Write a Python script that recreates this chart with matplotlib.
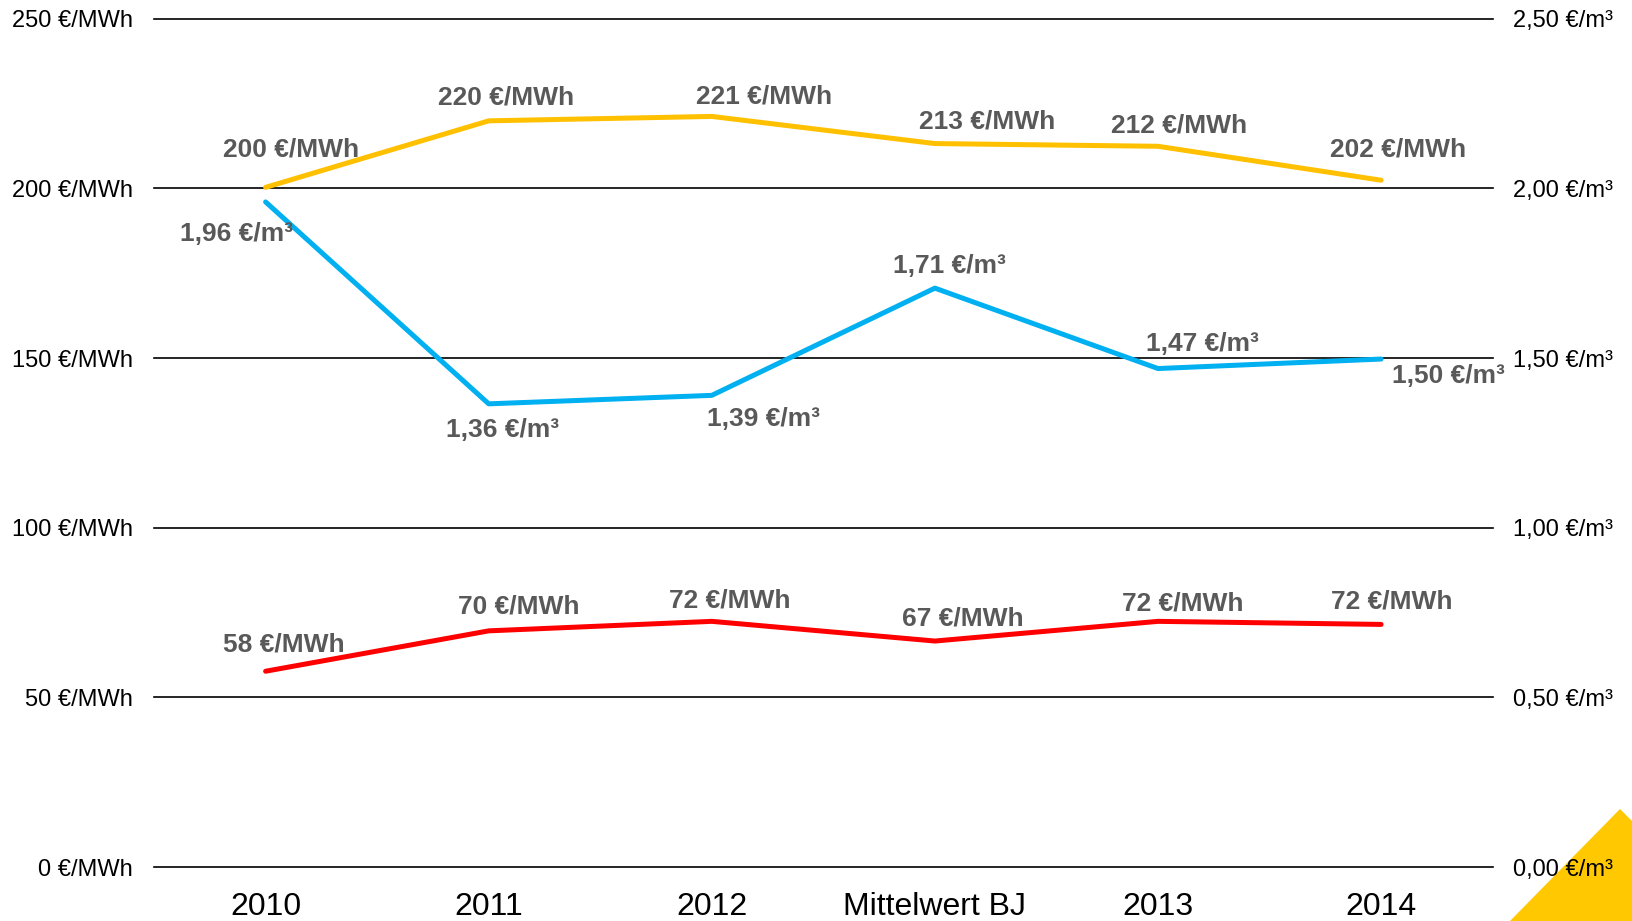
import matplotlib.pyplot as plt
from matplotlib.patches import Polygon

plt.rcParams['font.family'] = ['Liberation Sans', 'DejaVu Sans']

categories = ['2010', '2011', '2012', 'Mittelwert BJ', '2013', '2014']
heat_price = [200.3, 219.9, 221.2, 213.2, 212.4, 202.4]   # €/MWh, yellow
power_price = [57.7, 69.6, 72.4, 66.6, 72.4, 71.5]        # €/MWh, red
water_price = [1.96, 1.365, 1.39, 1.706, 1.469, 1.497]    # €/m³, blue
left_ticks = [0, 50, 100, 150, 200, 250]
right_ticks = [0, 0.5, 1.0, 1.5, 2.0, 2.5]

# label offsets in pixels (dx, dy)
heat_off = [(25, 38), (17, 23), (52, 20), (52, 22), (21, 21), (17, 31)]
power_off = [(18, 27), (30, 24), (18, 21), (28, 23), (25, 18), (11, 23)]
water_off = [(-29, -32), (14, -26), (52, -24), (15, 22), (44, 25), (67, -17)]

fig = plt.figure(figsize=(16.32, 9.21), dpi=100)

# yellow corner decoration, behind everything
tri = Polygon([(1510 / 1632, 0), (1620 / 1632, 1 - 809 / 921),
               (1, 1 - 821 / 921), (1, 0)], closed=True,
              transform=fig.transFigure, facecolor='#FFC800', edgecolor='none', zorder=-5)
fig.patches.append(tri)

ax = fig.add_axes([0.0944, 0.0586, 0.8202, 0.9211])
ax2 = ax.twinx()
ax.patch.set_alpha(0)
ax2.patch.set_alpha(0)

x = [i + 0.5 for i in range(len(categories))]

for t in left_ticks:
    ax.axhline(t, color='black', lw=1.2, clip_on=False, zorder=1)

ax.plot(x, heat_price, color='#FFC000', lw=3.6, solid_capstyle='round', zorder=3)
ax.plot(x, power_price, color='#FF0000', lw=3.6, solid_capstyle='round', zorder=3)
ax2.plot(x, water_price, color='#00B0F0', lw=3.6, solid_capstyle='round', zorder=3)

lab_kw = dict(textcoords='offset pixels', ha='center', va='center',
              fontsize=19, fontweight='bold', color='#595959')
for xi, v, o in zip(x, heat_price, heat_off):
    ax.annotate(f'{v:.0f} €/MWh', (xi, v), xytext=o, **lab_kw)
for xi, v, o in zip(x, power_price, power_off):
    ax.annotate(f'{v:.0f} €/MWh', (xi, v), xytext=o, **lab_kw)
for xi, v, o in zip(x, water_price, water_off):
    ax2.annotate(f'{v:.2f} €/m³'.replace('.', ','), (xi, v), xytext=o, **lab_kw)

ax.set_xlim(0, 6)
ax.set_ylim(0, 250)
ax2.set_ylim(0, 2.5)
ax.set_xticks(x)
ax.set_xticklabels(categories, fontsize=23)
ax.set_yticks(left_ticks)
ax.set_yticklabels([f'{t} €/MWh' for t in left_ticks], fontsize=17)
ax2.set_yticks(right_ticks)
ax2.set_yticklabels([f'{t:.2f} €/m³'.replace('.', ',') for t in right_ticks], fontsize=17)
ax.tick_params(axis='y', length=0, pad=15)
ax2.tick_params(axis='y', length=0, pad=15)
ax.tick_params(axis='x', length=0, pad=18)
for a in (ax, ax2):
    for s in a.spines.values():
        s.set_visible(False)

fig.savefig('out.png', dpi=100)
